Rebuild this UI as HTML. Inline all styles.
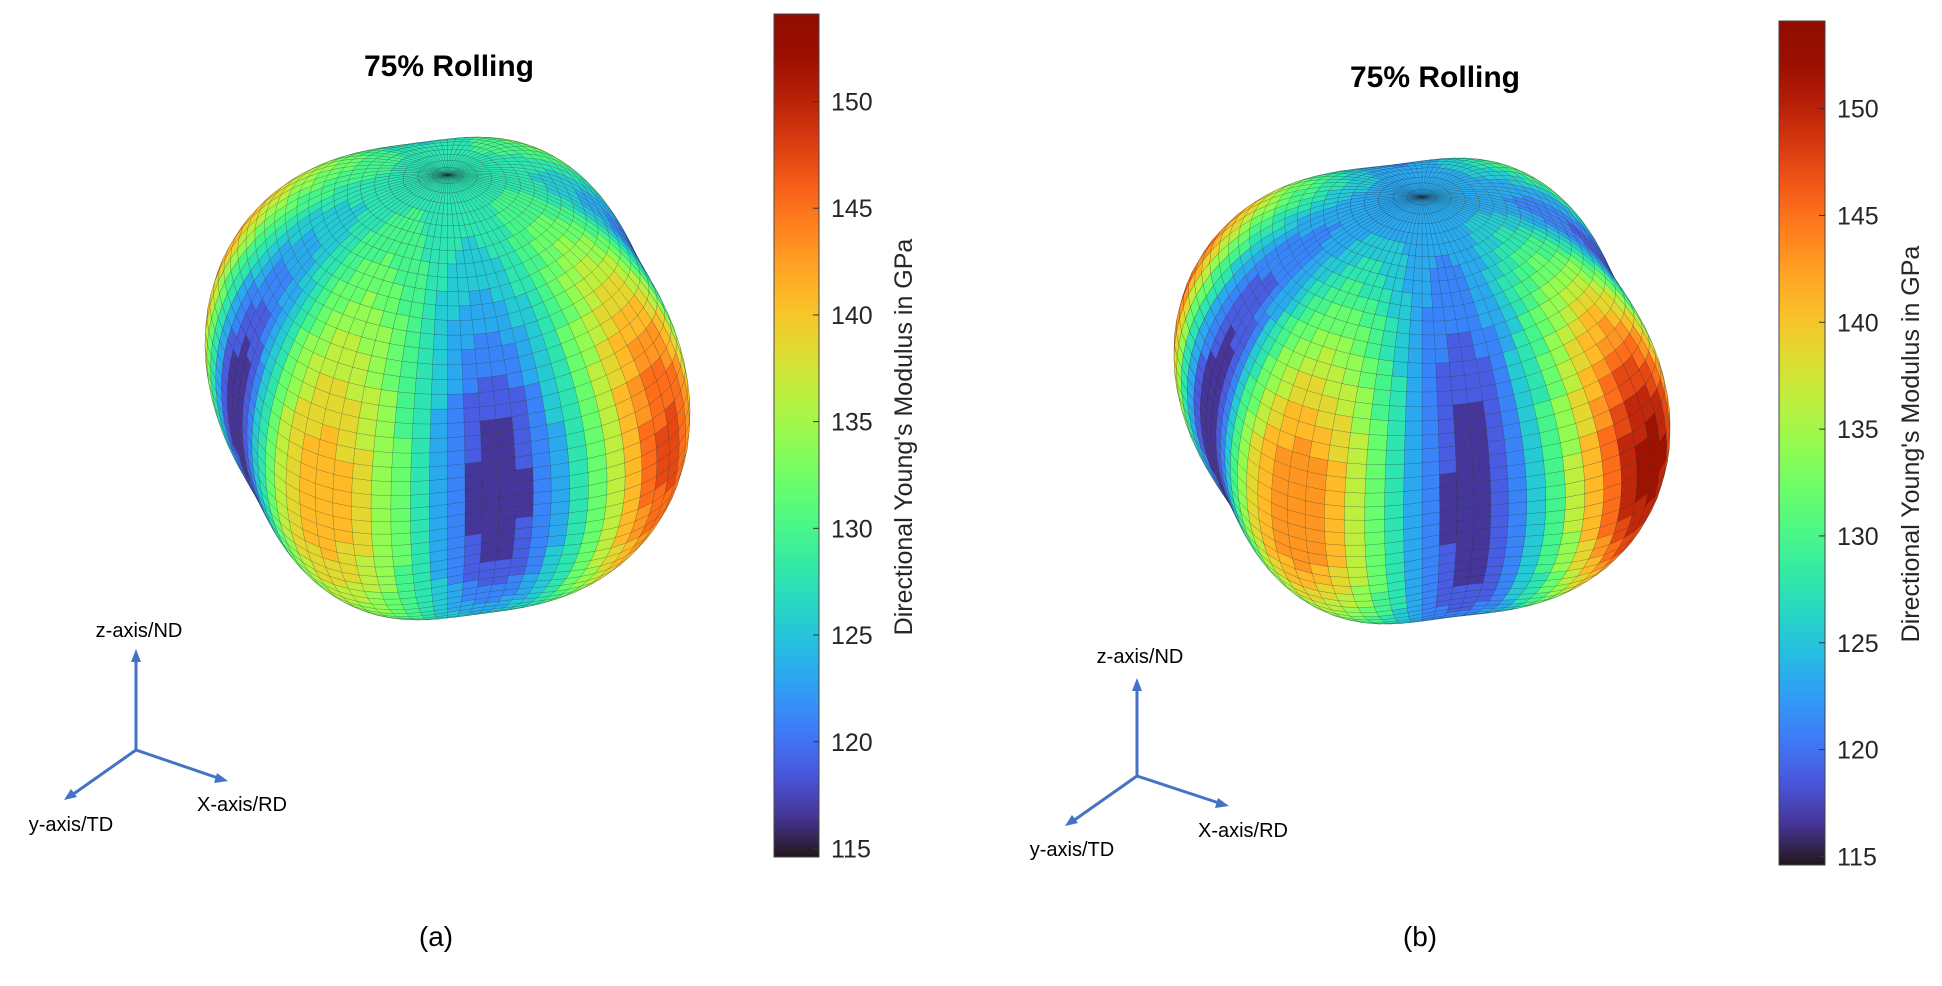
<!DOCTYPE html>
<html><head><meta charset="utf-8">
<style>
html,body{margin:0;padding:0;background:#fff;}
svg{display:block;font-family:"Liberation Sans",sans-serif;}
</style></head>
<body>
<svg id="fig" width="1942" height="986" viewBox="0 0 1942 986" xmlns="http://www.w3.org/2000/svg">
<defs>
<linearGradient id="turboGrad" x1="0" y1="1" x2="0" y2="0"></linearGradient>
</defs>
<g id="panelA">
  <text x="449" y="76" text-anchor="middle" font-weight="bold" font-size="30" fill="#000">75% Rolling</text>
  <g id="blobA"></g>
  <g stroke="#4472C4" stroke-width="3" fill="#4472C4">
    <line x1="136" y1="750" x2="136" y2="660"/>
    <polygon points="136,649 131,662 141,662" stroke="none"/>
    <line x1="136" y1="750" x2="218" y2="778"/>
    <polygon points="228,781 214,783 217,773" stroke="none"/>
    <line x1="136" y1="750" x2="72" y2="795"/>
    <polygon points="64,800 71,789 77,797" stroke="none"/>
  </g>
  <text x="139" y="637" text-anchor="middle" font-size="20" fill="#000">z-axis/ND</text>
  <text x="242" y="811" text-anchor="middle" font-size="20" fill="#000">X-axis/RD</text>
  <text x="71" y="831" text-anchor="middle" font-size="20" fill="#000">y-axis/TD</text>
  <text x="436" y="946" text-anchor="middle" font-size="28" fill="#000">(a)</text>
  <g id="cbarA"></g>
  <text transform="translate(912,437) rotate(-90)" text-anchor="middle" font-size="25" fill="#262626">Directional Young's Modulus in GPa</text>
</g>
<g id="panelB">
  <text x="1435" y="87" text-anchor="middle" font-weight="bold" font-size="30" fill="#000">75% Rolling</text>
  <g id="blobB"></g>
  <g stroke="#4472C4" stroke-width="3" fill="#4472C4">
    <line x1="1137" y1="776" x2="1137" y2="689"/>
    <polygon points="1137,678 1132,691 1142,691" stroke="none"/>
    <line x1="1137" y1="776" x2="1219" y2="803"/>
    <polygon points="1229,806 1215,808 1218,798" stroke="none"/>
    <line x1="1137" y1="776" x2="1073" y2="821"/>
    <polygon points="1065,826 1072,815 1078,823" stroke="none"/>
  </g>
  <text x="1140" y="663" text-anchor="middle" font-size="20" fill="#000">z-axis/ND</text>
  <text x="1243" y="837" text-anchor="middle" font-size="20" fill="#000">X-axis/RD</text>
  <text x="1072" y="856" text-anchor="middle" font-size="20" fill="#000">y-axis/TD</text>
  <text x="1420" y="946" text-anchor="middle" font-size="28" fill="#000">(b)</text>
  <g id="cbarB"></g>
  <text transform="translate(1919,444) rotate(-90)" text-anchor="middle" font-size="25" fill="#262626">Directional Young's Modulus in GPa</text>
</g>
</svg>
<script>
// ---- data ----
const colorTicks = [115, 120, 125, 130, 135, 140, 145, 150];
const colorRange = [114.6, 154.1];
const eqMean = [130, 132];       // equatorial mean modulus (GPa)
const amp4 = [14, 16];           // fourfold amplitude
const amp2 = [3, 4];             // twofold amplitude
const poleE = [128, 123];        // modulus at ND pole
const minPhaseDeg = [15, 15];    // azimuth of front minimum
// ---- layout (not data) ----
const blobBoxes = [[205,690,137,620],[1174,1670,158,624]];
const cbarBoxes = [[774,819,14,857],[1779,1825,21,865]];
const NS = "http://www.w3.org/2000/svg";

function turbo(t){
  t=Math.max(0,Math.min(1,t));
  const r=0.13572138+t*(4.61539260+t*(-42.66032258+t*(132.13108234+t*(-152.94239396+t*59.28637943))));
  const g=0.09140261+t*(2.19418839+t*(4.84296658+t*(-14.18503333+t*(4.27729857+t*2.82956604))));
  const b=0.10667330+t*(12.64194608+t*(-60.58204836+t*(110.36276771+t*(-89.90310912+t*27.34824973))));
  const c=v=>Math.round(255*Math.max(0,Math.min(1,v)));
  return `rgb(${c(r)},${c(g)},${c(b)})`;
}
function colorOf(E){ return turbo((E-colorRange[0])/(colorRange[1]-colorRange[0])); }

const grad=document.getElementById('turboGrad');
for(let i=0;i<=20;i++){
  const s=document.createElementNS(NS,'stop');
  s.setAttribute('offset',(i/20));
  s.setAttribute('stop-color',turbo(i/20));
  grad.appendChild(s);
}

function modulus(p,theta,phi){
  const d=phi-minPhaseDeg[p]*Math.PI/180;
  const eq=eqMean[p]-amp4[p]*Math.cos(4*d)+amp2[p]*Math.cos(2*(phi-60*Math.PI/180));
  const w=Math.pow(Math.sin(theta),2.2);
  return poleE[p]+(eq-poleE[p])*w;
}

function drawBlob(p,gid){
  const g=document.getElementById(gid);
  const NT=50, NP=80, elev=30*Math.PI/180;
  const pts=[];
  for(let i=0;i<=NT;i++){
    pts.push([]);
    for(let j=0;j<=NP;j++){
      const th=i/NT*Math.PI, ph=j/NP*2*Math.PI-Math.PI;
      const E=modulus(p,th,ph);
      const r=Math.pow(E/130,0.7);
      const X=r*Math.sin(th)*Math.sin(ph), D=r*Math.sin(th)*Math.cos(ph), Z=r*Math.cos(th)*0.9;
      pts[i].push([X, Z*Math.cos(elev)-D*Math.sin(elev), D*Math.cos(elev)+Z*Math.sin(elev)]);
    }
  }
  let mnx=1e9,mxx=-1e9,mny=1e9,mxy=-1e9;
  pts.forEach(row=>row.forEach(q=>{mnx=Math.min(mnx,q[0]);mxx=Math.max(mxx,q[0]);mny=Math.min(mny,q[1]);mxy=Math.max(mxy,q[1]);}));
  const bx=blobBoxes[p];
  const sx=x=>bx[0]+(x-mnx)/(mxx-mnx)*(bx[1]-bx[0]);
  const sy=y=>bx[2]+(mxy-y)/(mxy-mny)*(bx[3]-bx[2]);
  const quads=[];
  for(let i=0;i<NT;i++)for(let j=0;j<NP;j++){
    const a=pts[i][j],b=pts[i][j+1],c=pts[i+1][j+1],d=pts[i+1][j];
    const depth=(a[2]+b[2]+c[2]+d[2])/4;
    const th=(i+0.5)/NT*Math.PI, ph=(j+0.5)/NP*2*Math.PI-Math.PI;
    let E=modulus(p,th,ph);
    E=Math.round(E/2.2)*2.2;
    quads.push({depth,pts:[a,b,c,d],E});
  }
  quads.sort((u,v)=>u.depth-v.depth);
  quads.forEach(q=>{
    const path=document.createElementNS(NS,'path');
    path.setAttribute('d','M'+q.pts.map(t=>sx(t[0]).toFixed(1)+','+sy(t[1]).toFixed(1)).join('L')+'Z');
    path.setAttribute('fill',colorOf(q.E));
    path.setAttribute('stroke','rgba(30,30,30,0.3)');
    path.setAttribute('stroke-width','0.5');
    
    
    g.appendChild(path);
  });
}

function drawCbar(p,gid){
  const g=document.getElementById(gid);
  const b=cbarBoxes[p];
  const yOf=v=>b[3]-(v-colorRange[0])/(colorRange[1]-colorRange[0])*(b[3]-b[2]);
  const rect=document.createElementNS(NS,'rect');
  rect.setAttribute('x',b[0]);rect.setAttribute('y',b[2]);
  rect.setAttribute('width',b[1]-b[0]);rect.setAttribute('height',b[3]-b[2]);
  rect.setAttribute('fill','url(#turboGrad)');rect.setAttribute('stroke','#444');rect.setAttribute('stroke-width','1');
  
  
  g.appendChild(rect);
  colorTicks.forEach(v=>{
    const y=yOf(v);
    const l=document.createElementNS(NS,'line');
    l.setAttribute('x1',b[1]-6);l.setAttribute('x2',b[1]);l.setAttribute('y1',y);l.setAttribute('y2',y);
    l.setAttribute('stroke','#333');l.setAttribute('stroke-width','1');
    
    
    g.appendChild(l);
    const t=document.createElementNS(NS,'text');
    t.setAttribute('x',b[1]+12);t.setAttribute('y',y+9);
    t.setAttribute('font-size','25');t.setAttribute('fill','#262626');
    t.textContent=v;
    
    
    g.appendChild(t);
  });
}
drawBlob(0,'blobA');drawBlob(1,'blobB');
drawCbar(0,'cbarA');drawCbar(1,'cbarB');
</script>
</body></html>
